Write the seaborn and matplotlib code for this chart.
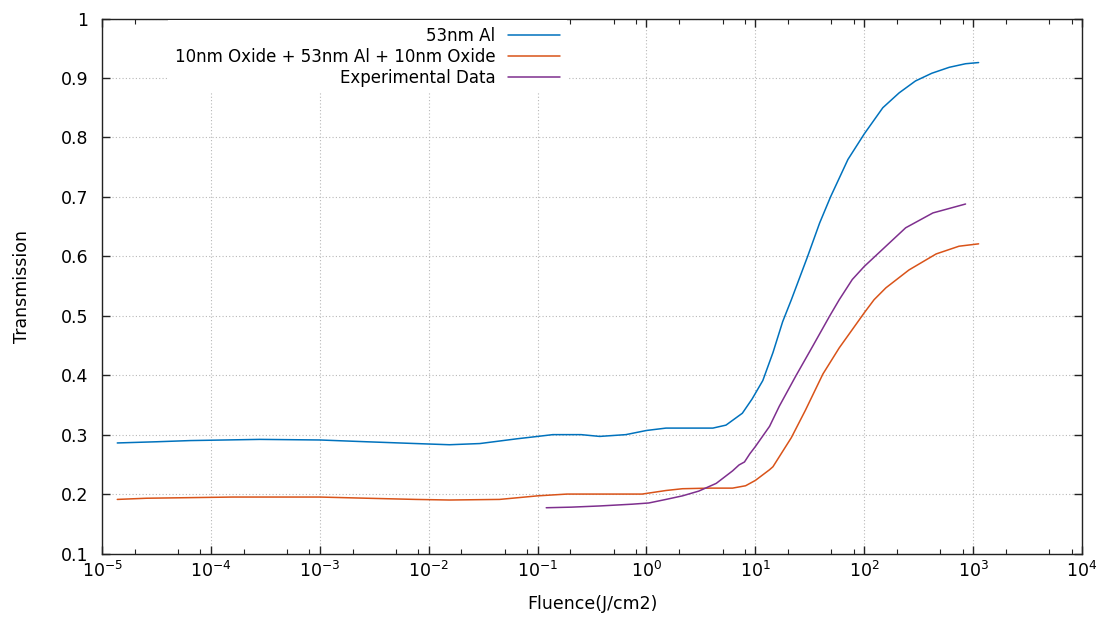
import numpy as np
import pandas as pd
import matplotlib
matplotlib.use('Agg')
import matplotlib.pyplot as plt
import matplotlib.ticker as mticker
import seaborn as sns

# values
al_fluence = [1.38e-5, 3.16e-5, 6.46e-5, 2.82e-4, 1e-3, 2.69e-3, 7.59e-3, 1.55e-2, 2.95e-2,
              6.46e-2, 0.1, 0.138, 0.251, 0.372, 0.646, 1.0, 1.51, 2.29, 4.07, 5.37, 7.59,
              9.33, 11.7, 14.5, 17.8, 21.4, 30.2, 38.9, 49.0, 70.8, 100, 148, 209,
              295, 417, 603, 851, 1122]
al_trans = [0.286, 0.288, 0.290, 0.292, 0.291, 0.288, 0.285, 0.283, 0.285,
            0.293, 0.297, 0.300, 0.300, 0.297, 0.300, 0.307, 0.311, 0.311, 0.311, 0.316, 0.336,
            0.360, 0.391, 0.438, 0.490, 0.527, 0.600, 0.656, 0.700, 0.763, 0.806, 0.850, 0.875,
            0.895, 0.908, 0.918, 0.924, 0.926]

oxide_fluence = [1.38e-5, 2.57e-5, 6.46e-5, 1.58e-4, 1e-3, 2.69e-3, 7.59e-3, 1.55e-2, 4.47e-2,
                 0.1, 0.186, 0.372, 0.912, 1.51, 2.14, 3.80, 6.17, 8.13, 10, 13.5, 14.5,
                 21.4, 28.8, 41.7, 58.9, 100, 123, 158, 257, 457, 741, 1122]
oxide_trans = [0.191, 0.193, 0.194, 0.195, 0.195, 0.193, 0.191, 0.190, 0.191,
               0.197, 0.200, 0.200, 0.200, 0.206, 0.209, 0.210, 0.210, 0.214, 0.223, 0.241, 0.246,
               0.295, 0.341, 0.402, 0.446, 0.505, 0.527, 0.547, 0.577, 0.604, 0.617, 0.621]

exp_fluence = [0.120, 0.204, 0.372, 0.741, 1.05, 1.51, 2.14, 3.02, 4.37, 6.17, 7.08, 7.94,
               8.91, 10, 13.5, 16.6, 23.4, 33.9, 47.9, 58.9, 77.6, 100, 158, 240, 427, 851]
exp_trans = [0.177, 0.178, 0.180, 0.183, 0.185, 0.191, 0.197, 0.205, 0.218, 0.239, 0.249, 0.254,
             0.268, 0.280, 0.314, 0.348, 0.398, 0.450, 0.499, 0.527, 0.561, 0.583, 0.617,
             0.648, 0.673, 0.688]

labels = ['53nm Al', '10nm Oxide + 53nm Al + 10nm Oxide', 'Experimental Data']
colors = ['#0072bd', '#d95319', '#7e2f8e']

sns.set_style('ticks')
plt.rcParams['font.family'] = ['DejaVu Sans']
plt.rcParams['mathtext.default'] = 'regular'
plt.rcParams['font.size'] = 12.5
plt.rcParams['text.color'] = 'black'
plt.rcParams['axes.labelcolor'] = 'black'

fig = plt.figure(figsize=(11.02, 6.19), dpi=100)
ax = fig.add_axes([0.0926, 0.1058, 0.8893, 0.8642])
ax.set_xscale('log')

series = [(al_fluence, al_trans), (oxide_fluence, oxide_trans), (exp_fluence, exp_trans)]
for (fx, ty), lab, col in zip(series, labels, colors):
    df = pd.DataFrame({'fluence': fx, 'trans': ty})
    sns.lineplot(data=df, x='fluence', y='trans', color=col, label=lab, linewidth=1.1, ax=ax)

ax.set_xlim(1e-5, 1e4)
ax.set_ylim(0.1, 1.0)

decades = np.arange(-5, 5)
ax.xaxis.set_major_locator(mticker.FixedLocator(10.0 ** decades))
ax.xaxis.set_major_formatter(mticker.FixedFormatter(['$10^{%d}$' % d for d in decades]))
ax.xaxis.set_minor_locator(mticker.LogLocator(base=10, subs=(2, 5, 8), numticks=20))
ax.xaxis.set_minor_formatter(mticker.NullFormatter())

yt = np.round(np.arange(0.1, 1.01, 0.1), 1)
ax.set_yticks(yt)
ax.set_yticklabels(['%g' % v for v in yt])

ax.tick_params(axis='both', which='major', direction='in', length=6, width=1,
               top=True, right=True, color='#222222', labelcolor='black')
ax.tick_params(axis='both', which='minor', direction='in', length=3.5, width=0.8,
               top=True, right=True, color='#222222')
ax.tick_params(axis='x', which='major', pad=5)
ax.tick_params(axis='y', which='major', pad=10)

ax.grid(True, which='major', linestyle=(0, (1, 2)), color='#b8b8b8', linewidth=0.8)
for sp in ax.spines.values():
    sp.set_color('#222222')
    sp.set_linewidth(1.0)

ax.set_xlabel('Fluence(J/cm2)')
ax.set_ylabel('Transmission')
ax.xaxis.set_label_coords(0.5, -0.078)
ax.yaxis.set_label_coords(-0.0724, 0.5)

leg = ax.legend(loc='upper right', bbox_to_anchor=(0.4745, 0.997), markerfirst=False,
                frameon=True, fancybox=False, framealpha=1, edgecolor='none', facecolor='white',
                handlelength=3.15, handletextpad=0.75, labelspacing=0.17, borderpad=0.4,
                borderaxespad=0, fontsize=12)

fig.savefig('out.png', dpi=100)
